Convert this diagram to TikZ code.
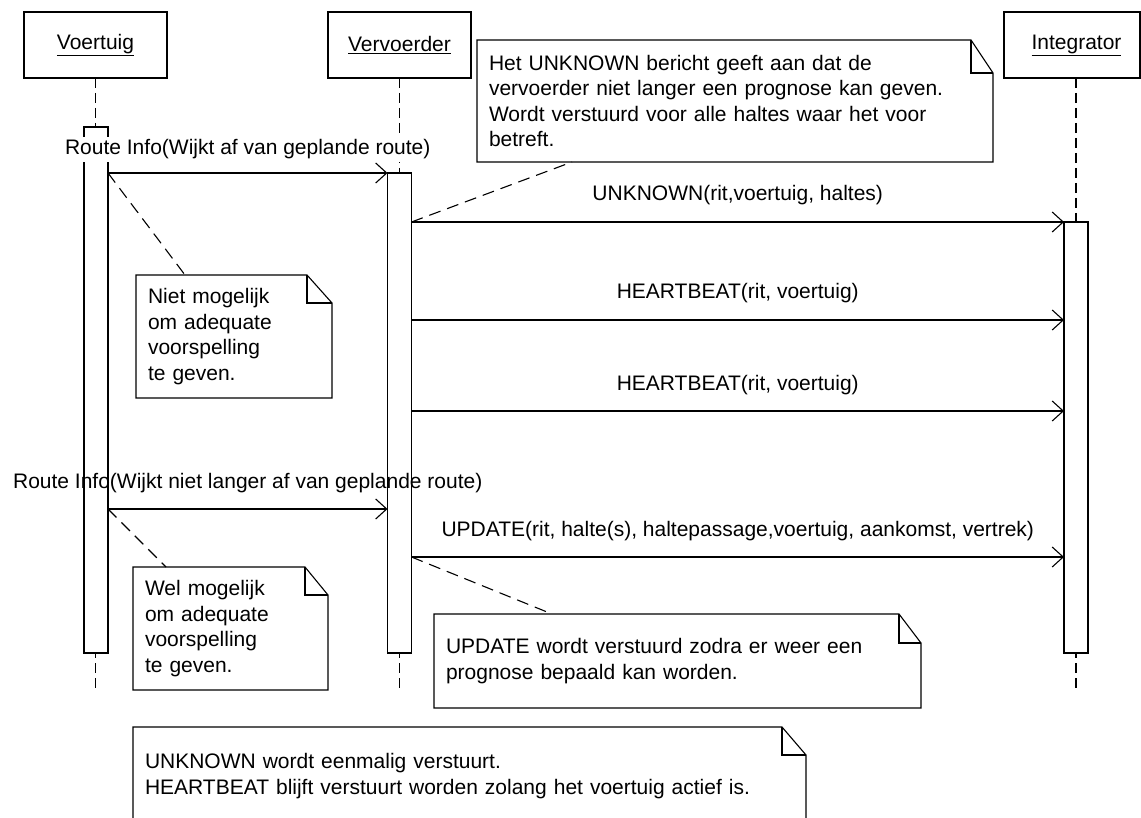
\documentclass[tikz,border=0pt]{standalone}
\usepackage{fontspec}
\setmainfont{Liberation Sans}
\usetikzlibrary{arrows.meta,calc}
\newcommand{\drawnote}[3]{%
  \draw[noteline] (#1.north west) -- ([xshift=-#2pt]#1.north east) -- ([yshift=-#3pt]#1.north east) -- (#1.south east) -- (#1.south west) -- cycle;
  \draw[noteline] ([xshift=-#2pt]#1.north east) |- ([yshift=-#3pt]#1.north east);}
\begin{document}
\begin{tikzpicture}[x=1pt,y=-1pt,
  every node/.style={font=\fontsize{21}{25.5}\selectfont, outer sep=0pt},
  head/.style={draw, line width=1.1pt, minimum height=66pt, anchor=north west, inner sep=0pt},
  act/.style={draw, fill=white, line width=1.1pt, minimum width=24pt, anchor=north west, inner sep=0pt},
  life/.style={line width=1.1pt, dash pattern=on 10pt off 5pt},
  msg/.style={line width=1.1pt, -{Straight Barb[length=11pt,width=20pt]}},
  lbl/.style={anchor=base, yshift=21pt, inner sep=0pt},
  notebox/.style={anchor=north west, inner xsep=12pt, inner ysep=0pt, align=left},
  noteline/.style={line width=1.1pt},
  conn/.style={line width=1.1pt, dash pattern=on 12pt off 7pt},
]
\useasboundingbox (0,0) rectangle (1141,818);
\fill[white] (0,0) rectangle (1141,818);

% heads
\node[head, minimum width=143pt] (v) at (24,12) {\underline{Voertuig}};
\node[head, minimum width=143pt] (c) at (328,12) {\underline{Vervoerder}};
\node[head, minimum width=136pt] (i) at (1004,12) {\hspace*{9pt}\underline{Integrator}};

% lifelines
\coordinate (vend) at (95.5,690);
\coordinate (cend) at (399.5,690);
\coordinate (itop) at (1076,78);
\coordinate (iend) at (1076,690);
\draw[life] (v.south) -- (vend);
\draw[life] (c.south) -- (cend);
\draw[life] (itop) -- (iend);

% activations
\node[act, minimum height=526pt] (va) at (84,127) {};
\node[act, minimum height=480pt] (ca) at (387.5,173) {};
\node[act, minimum height=431pt] (ia) at (1064,222) {};

% message levels
\coordinate (m1) at (0,173);
\coordinate (m2) at (0,222);
\coordinate (m3) at (0,320);
\coordinate (m4) at (0,411);
\coordinate (m5) at (0,509);
\coordinate (m6) at (0,557);

\draw[msg] (va.east |- m1) -- node[lbl, fill=white, inner ysep=3pt, inner xsep=1pt, yshift=-3pt] {Route Info(Wijkt af van geplande route)} (ca.west |- m1);
\draw[msg] (ca.east |- m2) -- node[lbl] {UNKNOWN(rit,voertuig, haltes)} (ia.west |- m2);
\draw[msg] (ca.east |- m3) -- node[lbl] {HEARTBEAT(rit, voertuig)} (ia.west |- m3);
\draw[msg] (ca.east |- m4) -- node[lbl] {HEARTBEAT(rit, voertuig)} (ia.west |- m4);
\draw[msg] (va.east |- m5) -- node[lbl] {Route Info(Wijkt niet langer af van geplande route)} (ca.west |- m5);
\draw[msg] (ca.east |- m6) -- node[lbl] {UPDATE(rit, halte(s), haltepassage,voertuig, aankomst, vertrek)} (ia.west |- m6);

% notes
\node[notebox, text width=492pt, minimum height=122pt] (n1) at (477,40)
  {Het UNKNOWN bericht geeft aan dat de\\vervoerder niet langer een prognose kan geven.\\Wordt verstuurd voor alle haltes waar het voor\\betreft.};
\drawnote{n1}{22}{33}
\node[notebox, text width=172pt, minimum height=123pt] (n2) at (136,275)
  {Niet mogelijk\\om adequate\\voorspelling\\te geven.};
\drawnote{n2}{25}{28}
\node[notebox, text width=171pt, minimum height=123pt] (n3) at (133,567)
  {Wel mogelijk\\om adequate\\voorspelling\\te geven.};
\drawnote{n3}{23}{28}
\node[notebox, text width=463pt, minimum height=94pt] (n4) at (434,614)
  {UPDATE wordt verstuurd zodra er weer een\\prognose bepaald kan worden.};
\drawnote{n4}{22}{29}
\node[notebox, text width=649pt, minimum height=98pt] (n5) at (133,727)
  {UNKNOWN wordt eenmalig verstuurt.\\HEARTBEAT blijft verstuurt worden zolang het voertuig actief is.};
\coordinate (bot) at (0,818);
\draw[noteline] (n5.west |- bot) -- (n5.north west) -- ([xshift=-24pt]n5.north east) -- ([yshift=-28pt]n5.north east) -- (n5.east |- bot);
\draw[noteline] ([xshift=-24pt]n5.north east) |- ([yshift=-28pt]n5.north east);

% note connectors
\draw[conn] (va.east |- m1) -- ($(n2.north west)+(49,0)$);
\draw[conn] (ca.east |- m2) -- ($(n1.south west)+(95,0)$);
\draw[conn] (va.east |- m5) -- ($(n3.north west)+(33,0)$);
\draw[conn] (ca.east |- m6) -- ($(n4.north west)+(118,0)$);
\end{tikzpicture}
\end{document}
